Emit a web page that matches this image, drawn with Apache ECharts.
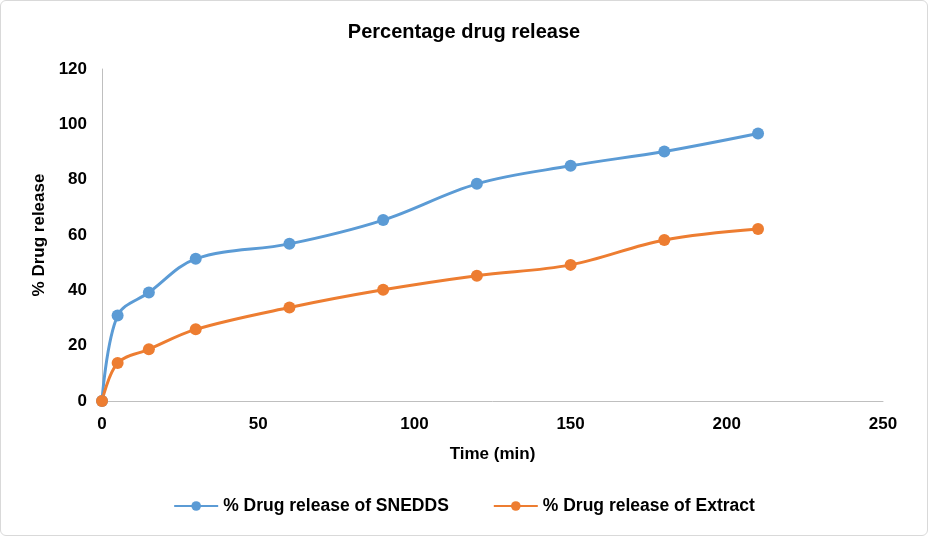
<!DOCTYPE html>
<html><head><meta charset="utf-8">
<script src="https://cdn.jsdelivr.net/npm/echarts@6/dist/echarts.min.js"></script>
<style>html,body{margin:0;padding:0;background:#fff}#c{width:928px;height:536px;box-sizing:border-box;border:1px solid #d9d9d9;border-radius:6px}</style>
</head><body><div id="c"></div>
<script>
const times = [0, 5, 15, 30, 60, 90, 120, 150, 180, 210];
const snedds = [0, 30.9, 39.2, 51.4, 56.8, 65.4, 78.5, 85, 90.2, 96.7];
const extract = [0, 13.7, 18.7, 25.9, 33.8, 40.2, 45.3, 49.2, 58.2, 62.2];
const seriesNames = ['% Drug release of SNEDDS', '% Drug release of Extract'];
const font = 'Liberation Sans, Arial, sans-serif';
const chart = echarts.init(document.getElementById('c'));
chart.setOption({
  animation: false,
  title: {text: 'Percentage drug release', left: 'center', top: 16,
    textStyle: {fontFamily: font, fontSize: 20, fontWeight: 'bold', color: '#000'}},
  legend: {bottom: 15, left: 'center', itemWidth: 44, itemHeight: 12, itemGap: 44,
    textStyle: {fontFamily: font, fontSize: 17.5, fontWeight: 'bold', color: '#000'},
    data: seriesNames},
  grid: {left: 101, right: 44, top: 68, bottom: 134},
  xAxis: {type: 'value', min: 0, max: 250, interval: 50,
    name: 'Time (min)', nameLocation: 'middle', nameGap: 45,
    nameTextStyle: {fontFamily: font, fontSize: 17, fontWeight: 'bold', color: '#000'},
    axisLine: {lineStyle: {color: '#bfbfbf', width: 1}}, axisTick: {show: false},
    splitLine: {show: false},
    axisLabel: {fontFamily: font, fontSize: 17, fontWeight: 'bold', color: '#000', margin: 15}},
  yAxis: {type: 'value', min: 0, max: 120, interval: 20,
    name: '% Drug release', nameLocation: 'middle', nameGap: 52, nameRotate: 90,
    nameTextStyle: {fontFamily: font, fontSize: 17, fontWeight: 'bold', color: '#000'},
    axisLine: {show: true, lineStyle: {color: '#bfbfbf', width: 1}}, axisTick: {show: false},
    splitLine: {show: false},
    axisLabel: {fontFamily: font, fontSize: 17, fontWeight: 'bold', color: '#000', margin: 15}},
  series: [
    {name: seriesNames[0], type: 'line', smooth: 0.35, data: times.map((t, i) => [t, snedds[i]]),
      symbol: 'circle', symbolSize: 12, lineStyle: {width: 3, color: '#5b9bd5'},
      itemStyle: {color: '#5b9bd5'}},
    {name: seriesNames[1], type: 'line', smooth: 0.35, data: times.map((t, i) => [t, extract[i]]),
      symbol: 'circle', symbolSize: 12, lineStyle: {width: 3, color: '#ed7d31'},
      itemStyle: {color: '#ed7d31'}}
  ]
});
</script></body></html>
